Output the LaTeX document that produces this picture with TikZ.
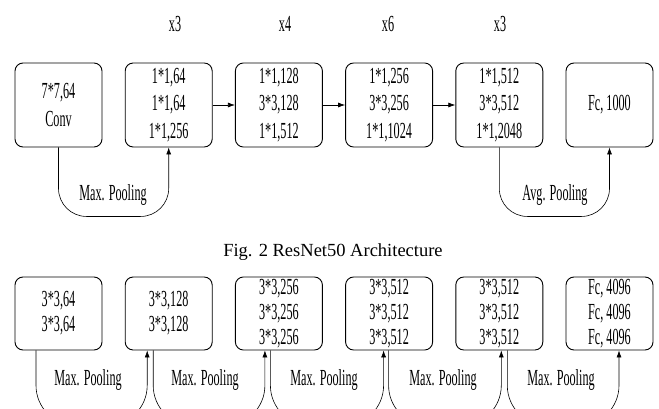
\documentclass[tikz,border=0pt]{standalone}
\usepackage{fontspec}
\setmainfont{Liberation Serif}
\newfontfamily\nf[FakeStretch=0.53]{Liberation Serif}
\usetikzlibrary{arrows.meta}
\tikzset{
  boxtop/.style={draw, line width=0.9pt, rounded corners=8pt, minimum width=87pt, minimum height=84pt, inner sep=0pt, align=center, font=\nf\fontsize{23}{27.5}\selectfont},
  boxbot/.style={draw, line width=0.9pt, rounded corners=8pt, minimum width=87pt, minimum height=73pt, inner sep=0pt, align=center, font=\nf\fontsize{23}{25}\selectfont},
  lbl/.style={font=\nf\fontsize{23}{25}\selectfont, inner sep=0pt},
  arr/.style={-{Latex[length=7pt,width=5pt]}, line width=0.7pt},
  crv/.style={arr, line width=0.6pt}
}
\begin{document}
\begin{tikzpicture}[x=1pt,y=1pt]
\clip (0,0) rectangle (659,-409);
\fill[white] (0,0) rectangle (659,-409);
% top row
\node[boxtop] (t1) at (58.5,-105) {7*7,64\\Conv};
\node[boxtop] (t2) at (168.7,-105) {1*1,64\\1*1,64\\1*1,256};
\node[boxtop] (t3) at (278.9,-105) {1*1,128\\3*3,128\\1*1,512};
\node[boxtop] (t4) at (389.1,-105) {1*1,256\\3*3,256\\1*1,1024};
\node[boxtop] (t5) at (499.3,-105) {1*1,512\\3*3,512\\1*1,2048};
\node[boxtop] (t6) at (609.5,-105) {Fc, 1000};
\node[lbl] (r2) at (175,-24) {x3};
\node[lbl] (r3) at (285,-24) {x4};
\node[lbl] (r4) at (388,-24) {x6};
\node[lbl] (r5) at (500,-24) {x3};
\draw[arr] (t2) -- (t3);
\draw[arr] (t3) -- (t4);
\draw[arr] (t4) -- (t5);
\draw[crv, rounded corners=28pt] (t1.south) -- ++(0,-69) -| (t2.south);
\draw[crv, rounded corners=28pt] (t5.south) -- ++(0,-69) -| (t6.south);
\node[lbl] (mp0) at (113,-195) {Max. Pooling};
\node[lbl] (ap0) at (555,-195) {Avg. Pooling};
% caption
\node[font=\fontsize{18.5}{22}\selectfont, inner sep=0pt] (cap) at (333,-252) {Fig. 2 ResNet50 Architecture};
% bottom row
\node[boxbot] (b1) at (58.5,-313.5) {3*3,64\\3*3,64};
\node[boxbot] (b2) at (168.7,-313.5) {3*3,128\\3*3,128};
\node[boxbot] (b3) at (278.9,-313.5) {3*3,256\\3*3,256\\3*3,256};
\node[boxbot] (b4) at (389.1,-313.5) {3*3,512\\3*3,512\\3*3,512};
\node[boxbot] (b5) at (499.3,-313.5) {3*3,512\\3*3,512\\3*3,512};
\node[boxbot] (b6) at (609.5,-313.5) {Fc, 4096\\Fc, 4096\\Fc, 4096};
\coordinate (o1) at ([xshift=-22.5pt]b1.south);
\coordinate (i2) at ([xshift=-21.5pt]b2.south);
\coordinate (o2) at ([xshift=-15.5pt]b2.south);
\coordinate (i3) at ([xshift=-14pt]b3.south);
\coordinate (o3) at ([xshift=-8.5pt]b3.south);
\coordinate (i4) at ([xshift=-5.5pt]b4.south);
\coordinate (o4) at ([xshift=-0.5pt]b4.south);
\coordinate (i5) at ([xshift=2pt]b5.south);
\coordinate (o5) at ([xshift=8pt]b5.south);
\coordinate (i6) at ([xshift=9.5pt]b6.south);
\draw[crv, rounded corners=40pt] (o1) -- ++(0,-75) -| (i2);
\draw[crv, rounded corners=40pt] (o2) -- ++(0,-75) -| (i3);
\draw[crv, rounded corners=40pt] (o3) -- ++(0,-75) -| (i4);
\draw[crv, rounded corners=40pt] (o4) -- ++(0,-75) -| (i5);
\draw[crv, rounded corners=40pt] (o5) -- ++(0,-75) -| (i6);
\node[lbl] (mp1) at (88,-380) {Max. Pooling};
\node[lbl] (mp2) at (205,-380) {Max. Pooling};
\node[lbl] (mp3) at (324,-380) {Max. Pooling};
\node[lbl] (mp4) at (443,-380) {Max. Pooling};
\node[lbl] (mp5) at (561,-380) {Max. Pooling};
\end{tikzpicture}
\end{document}
